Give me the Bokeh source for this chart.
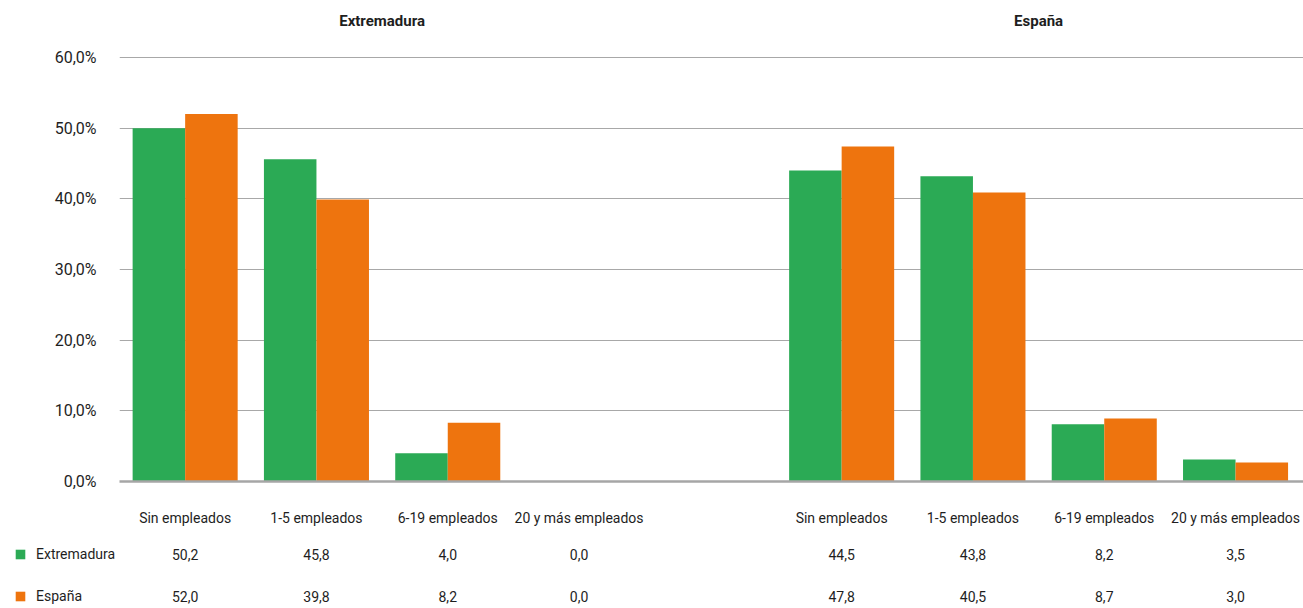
from bokeh.plotting import figure
from bokeh.layouts import column
from bokeh.models import (ColumnDataSource, FixedTicker, Legend, LegendItem,
                          LinearAxis, Range1d)
from bokeh.transform import dodge
from bokeh.core.properties import value
from bokeh.embed import file_html
from bokeh.resources import INLINE

# ---------------- data ----------------
groups = ["Extremadura", "España"]
categories = ["Sin empleados", "1-5 empleados", "6-19 empleados", "20 y más empleados"]
series = ["Extremadura", "España"]

# bar heights (%) (Extremadura group, then España group)
extremadura_bars = [50.0, 45.6, 4.0, 0.0, 44.0, 43.2, 8.1, 3.1]
espana_bars = [52.0, 39.9, 8.3, 0.0, 47.4, 40.9, 8.9, 2.7]

# values printed in the table under the chart
extremadura_table = ["50,2", "45,8", "4,0", "0,0", "44,5", "43,8", "8,2", "3,5"]
espana_table = ["52,0", "39,8", "8,2", "0,0", "47,8", "40,5", "8,7", "3,0"]

y_ticks = [0, 10, 20, 30, 40, 50, 60]
y_tick_labels = ["0,0%", "10,0%", "20,0%", "30,0%", "40,0%", "50,0%", "60,0%"]

GREEN = "#2baa55"
ORANGE = "#ee740e"
FONT = "Roboto"
TEXT = "#1e1e1e"

# slot positions: one empty slot between the two groups
ncat = len(categories)
xs = [g * (ncat + 1) + i for g in range(len(groups)) for i in range(ncat)]
cat_labels = [c for _ in groups for c in categories]
group_centers = [g * (ncat + 1) + (ncat - 1) / 2 for g in range(len(groups))]

src = ColumnDataSource(dict(x=xs, ext=extremadura_bars, esp=espana_bars,
                            ext_t=extremadura_table, esp_t=espana_table,
                            cat=cat_labels,
                            r0=[0] * len(xs), r1=[1] * len(xs)))

W = 1303
H1, H2 = 530, 78
LEFT = 119
SLOT = 131.3
X0 = -0.5
X1 = X0 + (W - LEFT) / SLOT

# ---------------- main chart ----------------
p = figure(width=W, height=H1, output_backend="svg", toolbar_location=None,
           x_range=Range1d(X0, X1), y_range=Range1d(0, 62.41),
           x_axis_location=None,
           min_border_left=LEFT, min_border_right=0, min_border_top=40,
           min_border_bottom=H1 - 481)
p.outline_line_color = None
p.background_fill_color = "white"
p.border_fill_color = "white"
p.frame_align = False

r1 = p.vbar(x=dodge("x", -0.2, range=p.x_range), top="ext", width=0.4,
            source=src, fill_color=GREEN, line_color=None)
r2 = p.vbar(x=dodge("x", 0.2, range=p.x_range), top="esp", width=0.4,
            source=src, fill_color=ORANGE, line_color=None)

# y axis
p.yaxis.ticker = FixedTicker(ticks=y_ticks)
p.yaxis.major_label_overrides = {t: l for t, l in zip(y_ticks, y_tick_labels)}
p.yaxis.axis_line_color = None
p.yaxis.major_tick_line_color = None
p.yaxis.major_tick_out = 0
p.yaxis.minor_tick_line_color = None
p.yaxis.major_label_standoff = 23
p.yaxis.major_label_text_font = FONT
p.yaxis.major_label_text_font_size = "16px"
p.yaxis.major_label_text_color = TEXT

p.ygrid.ticker = FixedTicker(ticks=y_ticks)
p.ygrid.grid_line_color = "#a8a8a8"
p.ygrid.grid_line_width = 1
p.xgrid.grid_line_color = None

# x axis with category labels
xaxis = LinearAxis(ticker=FixedTicker(ticks=xs),
                   major_label_overrides={x: c for x, c in zip(xs, cat_labels)},
                   axis_line_color="#a6a6a6", axis_line_width=2.5,
                   major_tick_line_color=None, major_tick_out=0,
                   minor_tick_line_color=None, major_label_standoff=28,
                   major_label_text_font=FONT, major_label_text_font_size="14px",
                   major_label_text_color=TEXT)
p.add_layout(xaxis, "below")

# group headers on an axis above the chart
top_axis = LinearAxis(ticker=FixedTicker(ticks=group_centers),
                      major_label_overrides={c: g for c, g in zip(group_centers, groups)},
                      axis_line_color=None, major_tick_line_color=None,
                      major_tick_out=0, minor_tick_line_color=None,
                      major_label_standoff=11,
                      major_label_text_font=FONT, major_label_text_font_size="15px",
                      major_label_text_font_style="bold",
                      major_label_text_color=TEXT)
p.add_layout(top_axis, "above")

# ---------------- data table under the chart ----------------
ROW = 42
row0_px = 24
t = figure(width=W, height=H2, output_backend="svg", toolbar_location=None,
           x_range=Range1d(X0 - LEFT / SLOT, X1),
           y_range=Range1d((H2 - row0_px) / ROW, -row0_px / ROW),
           min_border=0, x_axis_location=None, y_axis_location=None)
t.outline_line_color = None
t.grid.grid_line_color = None
t.background_fill_color = "white"
t.border_fill_color = "white"
t.frame_align = False

for col, row in (("ext_t", "r0"), ("esp_t", "r1")):
    t.text(x="x", y=row, text=col, source=src, text_align="center",
           text_baseline="middle", text_font=value(FONT),
           text_font_size="14px", text_color=TEXT)

# zero-height bars that only serve as legend swatches
l1 = t.vbar(x="x", top=0, bottom=0, width=0.4, source=src,
            fill_color=GREEN, line_color=None)
l2 = t.vbar(x="x", top=0, bottom=0, width=0.4, source=src,
            fill_color=ORANGE, line_color=None)

for i, (name, rend) in enumerate(zip(series, (l1, l2))):
    center_from_top = row0_px + i * ROW
    lg = Legend(items=[LegendItem(label=name, renderers=[rend], index=0)],
                location=(14, H2 - center_from_top - 8),
                glyph_width=12, glyph_height=12, label_standoff=10,
                padding=0, margin=0, spacing=0,
                border_line_color=None, background_fill_alpha=0,
                label_text_font=FONT, label_text_font_size="14px",
                label_text_color=TEXT, label_text_baseline="middle")
    t.add_layout(lg, "center")

layout = column(p, t, spacing=0)
open("out.html", "w").write(file_html(layout, INLINE))
